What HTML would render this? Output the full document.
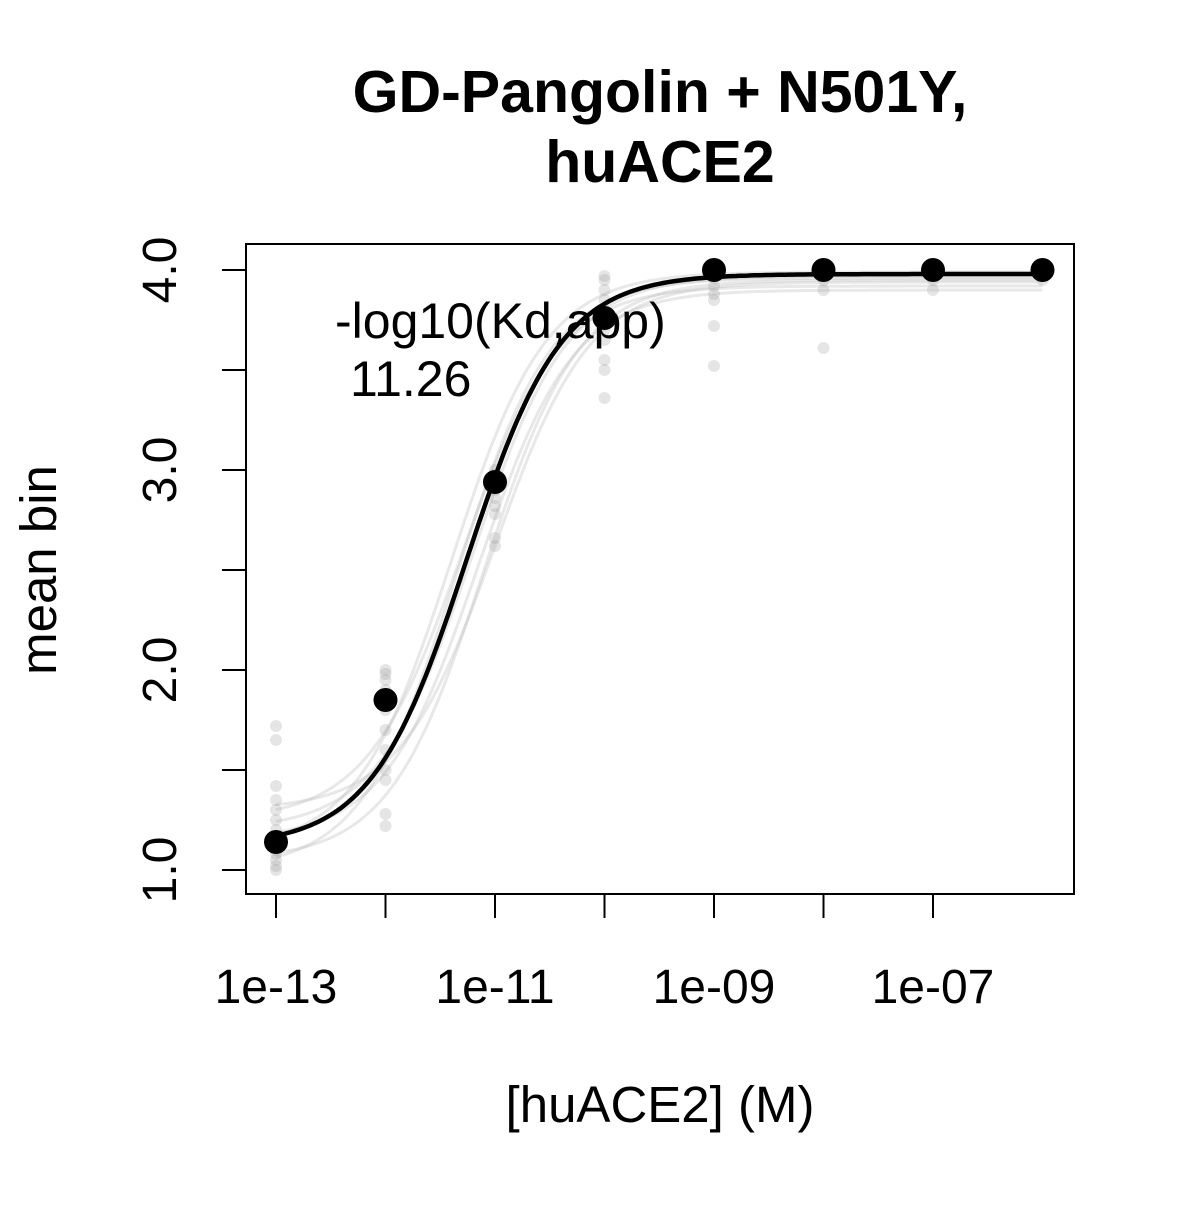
<!DOCTYPE html>
<html><head><meta charset="utf-8"><style>
body{margin:0;background:#fff}
svg text{font-family:"Liberation Sans",sans-serif;fill:#000}
</style></head><body>
<svg width="1200" height="1200" id="chart">
<rect width="1200" height="1200" fill="#fff"/>
<text x="660" y="112" font-size="59" font-weight="bold" text-anchor="middle">GD-Pangolin + N501Y,</text>
<text x="660" y="182" font-size="59" font-weight="bold" text-anchor="middle">huACE2</text>
<rect x="246" y="244" width="828" height="650" fill="none" stroke="#000" stroke-width="2"/>
<g id="gray"></g><g id="main"></g><g id="axes"></g>
<text x="335" y="338" font-size="50">-log10(Kd,app)</text>
<text x="350" y="396" font-size="50">11.26</text>
<text x="660" y="1122" font-size="51" text-anchor="middle">[huACE2] (M)</text>
<text transform="translate(56,570) rotate(-90)" font-size="51" text-anchor="middle">mean bin</text>
</svg>
<script>
const concLog=[-13,-12,-11,-10,-9,-8,-7,-6];
const meanBin=[1.14,1.85,2.94,3.76,4.0,4.0,4.0,4.0];
const fitKdLog=-11.26, fitBottom=1.12, fitTop=3.98;
const grayPoints=[
[1.0,1.02,1.05,1.08,1.1,1.15,1.2,1.25,1.3,1.35,1.42,1.65,1.72],
[1.22,1.28,1.45,1.5,1.6,1.7,1.8,1.9,1.95,2.0,1.98],
[2.62,2.66,2.78,2.82,2.86,2.9,2.96,3.0],
[3.36,3.5,3.55,3.65,3.7,3.75,3.8,3.85,3.9,3.95,3.97],
[3.52,3.72,3.85,3.88,3.92,3.96],
[3.61,3.9,3.95],
[3.9,3.95],
[3.95]];
const grayKdLog=[-11.1,-11.2,-11.3,-11.4,-11.0,-11.35,-11.15];
const grayBottom=[1.05,1.2,1.25,1.1,1.3,1.0,1.15];
const grayTop=[3.95,3.97,3.92,3.99,3.94,3.96,3.9];
const xTicks=[-13,-11,-9,-7], xTickLabels=["1e-13","1e-11","1e-09","1e-07"];
const yTicks=[1,1.5,2,2.5,3,3.5,4], yTickLabels=["1.0","","2.0","","3.0","","4.0"];
const NS="http://www.w3.org/2000/svg";
const X=v=>276+(v+13)*109.5, Y=v=>870-(v-1)*200;
function mk(t,a,p){const e=document.createElementNS(NS,t);for(const k in a)e.setAttribute(k,a[k]);p.appendChild(e);return e;}
function hill(l,kd,b,t){const x=Math.pow(10,l),k=Math.pow(10,kd);return b+(t-b)*x/(x+k);}
function curve(kd,b,t){let d="";for(let i=0;i<=200;i++){const l=-13+7*i/200;d+=(i?"L":"M")+X(l).toFixed(1)+","+Y(hill(l,kd,b,t)).toFixed(1);}return d;}
const g=document.getElementById('gray'),m=document.getElementById('main'),ax=document.getElementById('axes');
grayKdLog.forEach((kd,i)=>{const p=mk('path',{d:curve(kd,grayBottom[i],grayTop[i]),fill:'none',stroke:'rgba(180,180,180,0.3)','stroke-width':3},g);

});
grayPoints.forEach((arr,i)=>arr.forEach(v=>{const c=mk('circle',{cx:X(concLog[i]),cy:Y(v),r:6,fill:'rgba(150,150,150,0.25)'},g);

}));
const mp=mk('path',{d:curve(fitKdLog,fitBottom,fitTop),fill:'none',stroke:'#000','stroke-width':4.5},m);


meanBin.forEach((v,i)=>{const c=mk('circle',{cx:X(concLog[i]),cy:Y(v),r:12,fill:'#000'},m);

});
mk('line',{x1:X(-13),x2:X(-7),y1:894,y2:894,stroke:'#000','stroke-width':2},ax);
xTicks.forEach((t,i)=>{mk('line',{x1:X(t),x2:X(t),y1:894,y2:918,stroke:'#000','stroke-width':2},ax);
const tx=mk('text',{x:X(t),y:1003,'font-size':48,'text-anchor':'middle'},ax);tx.textContent=xTickLabels[i];

});
[-12,-10,-8].forEach(t=>mk('line',{x1:X(t),x2:X(t),y1:894,y2:918,stroke:'#000','stroke-width':2},ax));
yTicks.forEach((t,i)=>{mk('line',{x1:222,x2:246,y1:Y(t),y2:Y(t),stroke:'#000','stroke-width':2},ax);
if(yTickLabels[i]){const tx=mk('text',{transform:`translate(176,${Y(t)}) rotate(-90)`,'font-size':48,'text-anchor':'middle'},ax);tx.textContent=yTickLabels[i];

}});
mk('line',{x1:246,x2:246,y1:Y(1),y2:Y(4),stroke:'#000','stroke-width':2},ax);
</script>
</body></html>
